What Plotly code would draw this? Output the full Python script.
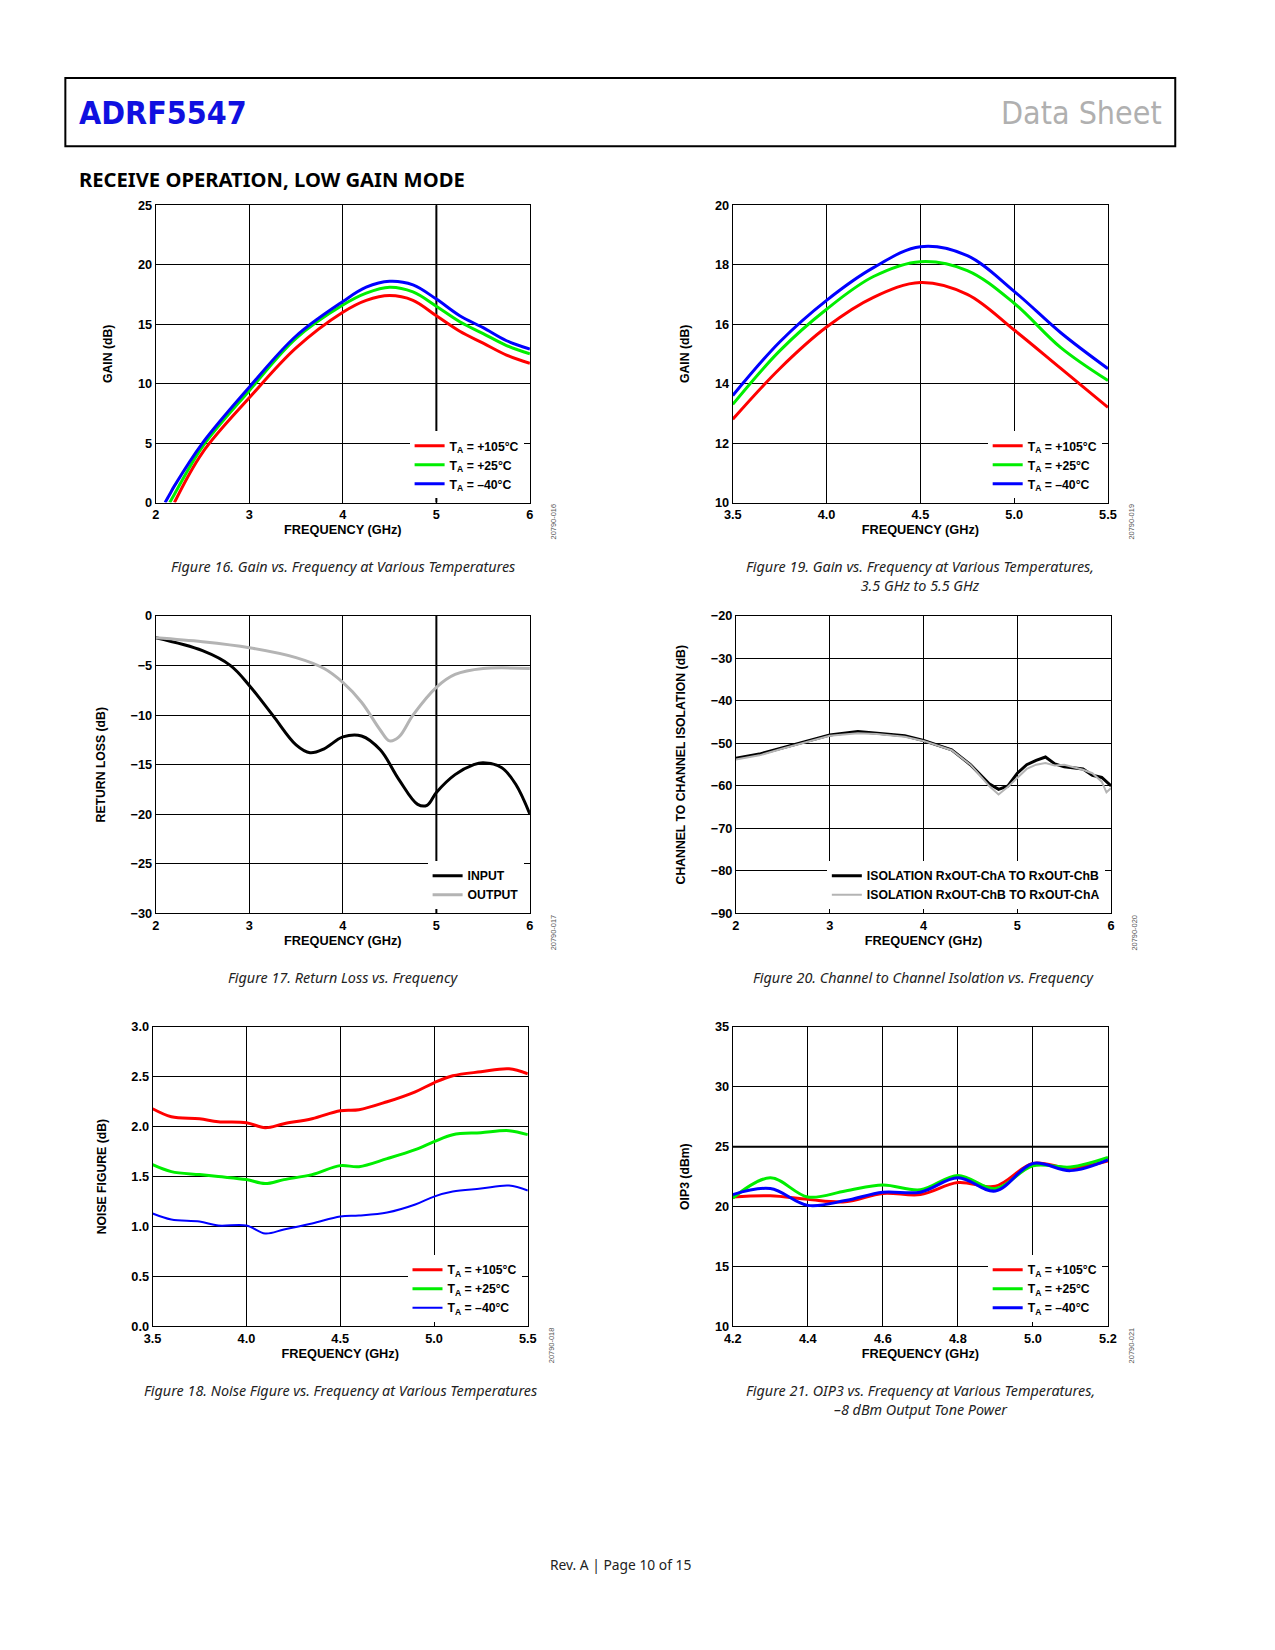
import plotly.graph_objects as go

W, H = 1275, 1650
RED, GREEN, BLUE = "#ff0000", "#00ee00", "#0000ff"

# Figure 16: gain vs frequency, 2 to 6 GHz
f16 = [2.1, 2.15, 2.2, 2.5, 3.0, 3.5, 4.0, 4.25, 4.5, 4.75, 5.0, 5.25, 5.5, 5.75, 6.0]
g16_red = [None, None, 0.0, 4.2, 8.8, 13.0, 16.0, 17.0, 17.4, 17.0, 15.7, 14.4, 13.4, 12.4, 11.7]
g16_green = [None, 0.0, 0.7, 4.7, 9.4, 13.8, 16.6, 17.6, 18.1, 17.7, 16.5, 15.2, 14.2, 13.2, 12.5]
g16_blue = [0.0, 0.7, 1.4, 5.0, 9.7, 14.0, 16.9, 18.1, 18.6, 18.3, 17.1, 15.7, 14.7, 13.6, 12.9]

# Figure 19: gain vs frequency, 3.5 to 5.5 GHz
f19 = [3.5, 3.75, 4.0, 4.25, 4.5, 4.75, 5.0, 5.25, 5.5]
g19_red = [12.8, 14.5, 15.9, 16.9, 17.4, 17.0, 15.8, 14.5, 13.2]
g19_green = [13.3, 15.1, 16.5, 17.6, 18.1, 17.8, 16.7, 15.2, 14.1]
g19_blue = [13.6, 15.4, 16.8, 17.9, 18.6, 18.3, 17.1, 15.7, 14.5]

# Figure 17: return loss
f17 = [2.0, 2.5, 2.8, 3.0, 3.25, 3.5, 3.65, 3.8, 4.0, 4.2, 4.4, 4.6, 4.8, 4.9,
       5.0, 5.2, 5.4, 5.5, 5.7, 5.85, 6.0]
rl_in = [-2.2, -3.5, -5.0, -7.0, -10.0, -13.0, -13.8, -13.4, -12.2, -12.1, -13.5,
         -16.5, -19.0, -19.1, -17.8, -16.0, -15.0, -14.8, -15.3, -17.0, -20.0]
f17o = [2.0, 2.5, 3.0, 3.5, 3.8, 4.0, 4.2, 4.4, 4.5, 4.6, 4.75, 5.0, 5.2, 5.5, 6.0]
rl_out = [-2.2, -2.6, -3.2, -4.2, -5.3, -6.7, -8.7, -11.5, -12.6, -12.2, -10.0,
          -7.2, -5.9, -5.3, -5.3]

# Figure 20: channel to channel isolation
f20 = [2.0, 2.25, 2.5, 3.0, 3.3, 3.5, 3.8, 4.0, 4.3, 4.5, 4.7, 4.8, 4.9, 5.0,
       5.1, 5.2, 5.3, 5.4, 5.5, 5.7, 5.8, 5.9, 5.95, 6.0]
iso_ab = [-53.5, -52.5, -51.0, -48.0, -47.2, -47.6, -48.2, -49.3, -51.5, -55.0,
          -59.5, -60.8, -60.0, -57.0, -55.0, -54.0, -53.2, -54.8, -55.5, -56.0,
          -57.5, -58.0, -59.0, -60.0]
iso_ba = [-53.8, -52.8, -51.2, -48.2, -47.6, -47.8, -48.4, -49.4, -51.6, -55.0,
          -60.0, -62.0, -60.2, -58.0, -56.0, -55.0, -54.6, -55.2, -55.0, -56.2,
          -57.0, -59.0, -61.5, -60.5]

# Figure 18: noise figure
f18 = [3.5, 3.6, 3.75, 3.85, 4.0, 4.1, 4.2, 4.35, 4.5, 4.6, 4.75, 4.9, 5.0,
       5.1, 5.25, 5.4, 5.5]
nf_red = [2.18, 2.10, 2.08, 2.05, 2.04, 1.99, 2.03, 2.08, 2.16, 2.17, 2.25, 2.35,
          2.44, 2.51, 2.55, 2.58, 2.53]
nf_green = [1.62, 1.55, 1.52, 1.50, 1.47, 1.43, 1.47, 1.52, 1.61, 1.60, 1.68, 1.77,
            1.85, 1.92, 1.94, 1.96, 1.92]
nf_blue = [1.13, 1.07, 1.05, 1.01, 1.01, 0.93, 0.97, 1.03, 1.10, 1.11, 1.14, 1.22,
           1.30, 1.35, 1.38, 1.41, 1.36]

# Figure 21: OIP3
f21 = [4.2, 4.3, 4.4, 4.5, 4.6, 4.7, 4.8, 4.9, 5.0, 5.1, 5.2]
ip_red = [20.8, 20.9, 20.6, 20.4, 21.1, 21.0, 22.0, 21.7, 23.6, 23.2, 23.8]
ip_green = [20.7, 22.4, 20.8, 21.3, 21.8, 21.4, 22.6, 21.5, 23.4, 23.3, 24.1]
ip_blue = [21.0, 21.5, 20.1, 20.5, 21.2, 21.2, 22.4, 21.3, 23.6, 23.0, 23.9]

temps = ["<b>T<sub>A</sub> = +105°C</b>", "<b>T<sub>A</sub> = +25°C</b>", "<b>T<sub>A</sub> = –40°C</b>"]

fig = go.Figure()
FONT = "Liberation Sans, Arial"
# the page comes out shrunk by about 0.94 with an offset, so place things accordingly
SX, OX, SY, OY = 0.938, 14, 0.943, 13
FS = 1 / 0.94


def px(x):
    return (x - OX) / SX / W


def py(y):
    return 1 - (y - OY) / SY / H


def fs(n):
    return n * FS


panels = [
    # key, box(x0,x1,y0,y1), xrange, xdtick, yrange, ydtick, ytitle, code, caption lines
    (1, (146, 502, 193, 476), [2, 6], 1, [0, 25], 5, "GAIN (dB)", "20790-016",
     ["Figure 16. Gain vs. Frequency at Various Temperatures"]),
    (2, (695, 1052, 193, 476), [3.5, 5.5], 0.5, [10, 20], 2, "GAIN (dB)", "20790-019",
     ["Figure 19. Gain vs. Frequency at Various Temperatures,", "3.5 GHz to 5.5 GHz"]),
    (3, (146, 502, 584, 867), [2, 6], 1, [-30, 0], 5, "RETURN LOSS (dB)", "20790-017",
     ["Figure 17. Return Loss vs. Frequency"]),
    (4, (698, 1055, 584, 867), [2, 6], 1, [-90, -20], 10,
     "CHANNEL TO CHANNEL ISOLATION (dB)", "20790-020",
     ["Figure 20. Channel to Channel Isolation vs. Frequency"]),
    (5, (143, 500, 975, 1260), [3.5, 5.5], 0.5, [0, 3], 0.5, "NOISE FIGURE (dB)", "20790-018",
     ["Figure 18. Noise Figure vs. Frequency at Various Temperatures"]),
    (6, (695, 1052, 975, 1260), [4.2, 5.2], 0.2, [10, 35], 5, "OIP3 (dBm)", "20790-021",
     ["Figure 21. OIP3 vs. Frequency at Various Temperatures,", "–8 dBm Output Tone Power"]),
]

layout = {}
annotations = []
legend_boxes = {}
for k, (x0, x1, y0, y1), xr, xd, yr, yd, ytitle, code, cap in panels:
    s = "" if k == 1 else str(k)
    layout["xaxis" + s] = dict(
        domain=[px(x0), px(x1)], range=xr, dtick=xd, tick0=xr[0], anchor="y" + s,
        showgrid=True, gridcolor="black", gridwidth=1, showline=True, linecolor="black",
        linewidth=1, mirror=True, zeroline=False, ticks="", tickformat=".1f" if xd < 1 else "d",
        tickprefix="<b>", ticksuffix="</b>",
        tickfont=dict(family=FONT, size=fs(12), color="black"),
        title=dict(text="<b>FREQUENCY (GHz)</b>", font=dict(family=FONT, size=fs(12), color="black"),
                   standoff=4))
    layout["yaxis" + s] = dict(
        domain=[py(y1), py(y0)], range=yr, dtick=yd, tick0=yr[0], anchor="x" + s,
        showgrid=True, gridcolor="black", gridwidth=1, showline=True, linecolor="black",
        linewidth=1, mirror=True, zeroline=False, ticks="", tickformat=".1f" if yd < 1 else "d",
        tickprefix="<b>", ticksuffix="</b>",
        tickfont=dict(family=FONT, size=fs(12), color="black"),
        title=dict(text="<b>" + ytitle + "</b>", font=dict(family=FONT, size=fs(11.5), color="black"),
                   standoff=22))
    annotations.append(dict(x=px(x1 + 22), y=py(y1 + 18), xref="paper", yref="paper",
                            text=code, textangle=-90, showarrow=False, xanchor="center",
                            yanchor="middle", font=dict(family=FONT, size=fs(7), color="#555")))
    annotations.append(dict(x=px((x0 + x1) / 2), y=py(y1 + 50), xref="paper", yref="paper",
                            text="<i>" + "<br>".join(cap) + "</i>", showarrow=False,
                            xanchor="center", yanchor="top",
                            font=dict(family="Noto Sans", size=fs(13.5), color="#222")))
    legend_boxes["legend" + ("" if k == 1 else str(k))] = (x1 - 6, y1 - 4)


def temp_traces(x, ys, k, legend, widths=(3, 3, 3)):
    s = "" if k == 1 else str(k)
    for y, c, name, w in zip(ys, (RED, GREEN, BLUE), temps, widths):
        fig.add_trace(go.Scatter(x=x, y=y, mode="lines", line=dict(color=c, width=w, shape="spline"),
                                 name=name, xaxis="x" + s, yaxis="y" + s, legend=legend))


temp_traces(f16, [g16_red, g16_green, g16_blue], 1, "legend")
temp_traces(f19, [g19_red, g19_green, g19_blue], 2, "legend2")
fig.add_trace(go.Scatter(x=f17, y=rl_in, mode="lines", line=dict(color="black", width=3, shape="spline"),
                         name="<b>INPUT</b>", xaxis="x3", yaxis="y3", legend="legend3"))
fig.add_trace(go.Scatter(x=f17o, y=rl_out, mode="lines", line=dict(color="#b4b4b4", width=3, shape="spline"),
                         name="<b>OUTPUT</b>", xaxis="x3", yaxis="y3", legend="legend3"))
fig.add_trace(go.Scatter(x=f20, y=iso_ab, mode="lines", line=dict(color="black", width=3),
                         name="<b>ISOLATION RxOUT-ChA TO RxOUT-ChB</b>", xaxis="x4", yaxis="y4",
                         legend="legend4"))
fig.add_trace(go.Scatter(x=f20, y=iso_ba, mode="lines", line=dict(color="#b4b4b4", width=2),
                         name="<b>ISOLATION RxOUT-ChB TO RxOUT-ChA</b>", xaxis="x4", yaxis="y4",
                         legend="legend4"))
temp_traces(f18, [nf_red, nf_green, nf_blue], 5, "legend5", widths=(3, 3, 2))
temp_traces(f21, [ip_red, ip_green, ip_blue], 6, "legend6")

for name, (lx, ly) in legend_boxes.items():
    layout[name] = dict(x=px(lx), y=py(ly), xanchor="right", yanchor="bottom", bgcolor="white",
                        font=dict(family=FONT, size=fs(11.5), color="black"), tracegroupgap=0,
                        itemwidth=30, borderwidth=0)

# page furniture
annotations += [
    dict(x=px(71), y=py(105), xref="paper", yref="paper", xanchor="left", yanchor="middle",
         showarrow=False, text="<b>ADRF5547</b>",
         font=dict(family="Liberation Sans Narrow, DejaVu Sans Condensed", size=fs(30), color="#1010e0")),
    dict(x=px(1105), y=py(105), xref="paper", yref="paper", xanchor="right", yanchor="middle",
         showarrow=False, text="Data Sheet",
         font=dict(family="Liberation Sans Narrow, DejaVu Sans Condensed", size=fs(30), color="#b0b0b0")),
    dict(x=px(71), y=py(168), xref="paper", yref="paper", xanchor="left", yanchor="middle",
         showarrow=False, text="<b>RECEIVE OPERATION, LOW GAIN MODE</b>",
         font=dict(family="Noto Sans", size=fs(19), color="black")),
    dict(x=px(588), y=py(1487), xref="paper", yref="paper", xanchor="center", yanchor="middle",
         showarrow=False, text="Rev. A | Page 10 of 15",
         font=dict(family="Noto Sans", size=fs(13), color="#222")),
]

shapes = [dict(type="rect", xref="paper", yref="paper", x0=px(60), x1=px(1116), y0=py(137),
               y1=py(72), line=dict(color="black", width=2))]
# heavier grid lines seen in the reference, drawn below the traces and legends
shapes += [
    dict(type="line", xref="x", yref="y domain", x0=5, x1=5, y0=0, y1=1,
         line=dict(color="black", width=2), layer="below"),
    dict(type="line", xref="x3", yref="y3 domain", x0=5, x1=5, y0=0, y1=1,
         line=dict(color="black", width=2), layer="below"),
    dict(type="line", xref="x6 domain", yref="y6", x0=0, x1=1, y0=25, y1=25,
         line=dict(color="black", width=2), layer="below"),
]

fig.update_layout(width=W, height=H, margin=dict(l=0, r=0, t=0, b=0), paper_bgcolor="white",
                  plot_bgcolor="white", annotations=annotations, shapes=shapes, **layout)

fig.write_html("out.html")
